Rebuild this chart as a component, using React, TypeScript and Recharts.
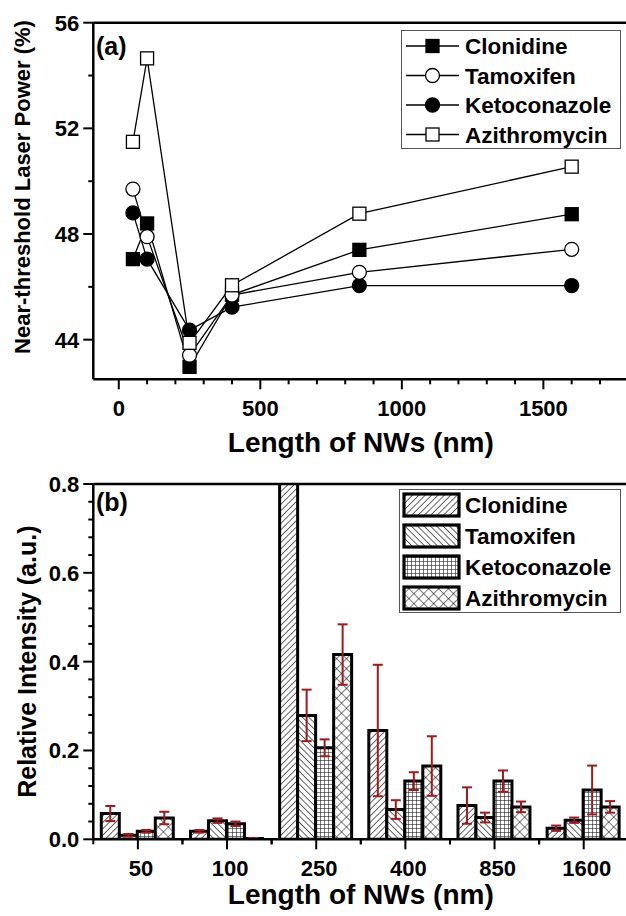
import React from 'react';
import {
  LineChart, Line, BarChart, Bar, XAxis, YAxis, ReferenceLine, Legend, ErrorBar, Label, Customized,
} from 'recharts';

// ---------- data ----------
const lengths = [50, 100, 250, 400, 850, 1600];
const clonidineP = [47.05, 48.4, 42.97, 45.7, 47.4, 48.75];
const tamoxifenP = [49.7, 47.9, 43.41, 45.69, 46.55, 47.42];
const ketoconazoleP = [48.8, 47.05, 44.36, 45.23, 46.05, 46.05];
const azithromycinP = [51.49, 54.65, 43.88, 46.06, 48.77, 50.55];

const topXTicks = [0, 100, 200, 300, 400, 500, 600, 700, 800, 900, 1000, 1100, 1200, 1300, 1400, 1500, 1600, 1700];
const topYTicks = [44, 46, 48, 50, 52, 54, 56];

const categories = ['50', '100', '250', '400', '850', '1600'];
const clonidineI = [0.058, 0.018, 1.0, 0.245, 0.076, 0.025];
const clonidineE = [0.017, 0.003, 0, 0.148, 0.041, 0.006];
const tamoxifenI = [0.009, 0.042, 0.279, 0.067, 0.049, 0.043];
const tamoxifenE = [0.003, 0.005, 0.058, 0.021, 0.011, 0.006];
const ketoconazoleI = [0.018, 0.035, 0.206, 0.131, 0.131, 0.111];
const ketoconazoleE = [0.003, 0.005, 0.019, 0.02, 0.024, 0.055];
const azithromycinI = [0.048, 0.002, 0.416, 0.165, 0.073, 0.073];
const azithromycinE = [0.014, 0.001, 0.068, 0.067, 0.012, 0.013];

const bottomYTicks = [0, 0.04, 0.08, 0.12, 0.16, 0.2, 0.24, 0.28, 0.32, 0.36, 0.4, 0.44, 0.48, 0.52, 0.56, 0.6, 0.64, 0.68, 0.72, 0.76, 0.8];
const bottomYLabels = ['0.0', '0.2', '0.4', '0.6', '0.8'];

const seriesNames = ['Clonidine', 'Tamoxifen', 'Ketoconazole', 'Azithromycin'];

const lineData = lengths.map((len, i) => ({
  len,
  cl: clonidineP[i],
  ta: tamoxifenP[i],
  ke: ketoconazoleP[i],
  az: azithromycinP[i],
}));

const barData = categories.map((cat, i) => ({
  cat,
  cl: clonidineI[i], clE: clonidineE[i],
  ta: tamoxifenI[i], taE: tamoxifenE[i],
  ke: ketoconazoleI[i], keE: ketoconazoleE[i],
  az: azithromycinI[i], azE: azithromycinE[i],
}));

// ---------- style ----------
const FONT = '"Liberation Sans", Arial, Helvetica, sans-serif';
const ERR = '#a3181b';
const AXIS_W = 2.5;

const W = 680;
const PLOT_LEFT = 93.3;
const PLOT_W = 535;

// ---------- markers ----------
const markerShape = (kind: string, cx: number, cy: number, key?: any) => {
  if (kind === 'sqF' || kind === 'sqO') {
    return (
      <rect key={key} x={cx - 6.5} y={cy - 6.5} width={13} height={13}
        fill={kind === 'sqF' ? '#000' : '#fff'} stroke="#000" strokeWidth={1.3} />
    );
  }
  return (
    <circle key={key} cx={cx} cy={cy} r={7}
      fill={kind === 'ciF' ? '#000' : '#fff'} stroke="#000" strokeWidth={1.3} />
  );
};
const markerKinds = ['sqF', 'ciO', 'ciF', 'sqO'];
const makeDot = (kind: string) => (p: any) => markerShape(kind, p.cx, p.cy, `${kind}-${p.index}`);

// ---------- ticks ----------
const TopXTick = (props: any) => {
  const { x, y, payload } = props;
  const major = payload.value % 500 === 0;
  return (
    <g>
      <line x1={x} y1={y} x2={x} y2={y + (major ? 10 : 5)} stroke="#000" strokeWidth={2} />
      {major && (
        <text x={x} y={y + 37} textAnchor="middle" fontSize={22} fontWeight="bold" fontFamily={FONT} fill="#000">
          {payload.value}
        </text>
      )}
    </g>
  );
};

const TopYTick = (props: any) => {
  const { x, y, payload } = props;
  const major = payload.value % 4 === 0;
  return (
    <g>
      <line x1={x} y1={y} x2={x - (major ? 10 : 5)} y2={y} stroke="#000" strokeWidth={2} />
      {major && (
        <text x={x - 14} y={y + 8} textAnchor="end" fontSize={22} fontWeight="bold" fontFamily={FONT} fill="#000">
          {payload.value}
        </text>
      )}
    </g>
  );
};

const BAND = PLOT_W / categories.length;
const BottomXTick = (props: any) => {
  const { x, y, payload } = props;
  return (
    <g>
      <line x1={x} y1={y} x2={x} y2={y + 10} stroke="#000" strokeWidth={2} />
      <line x1={x - BAND / 2} y1={y} x2={x - BAND / 2} y2={y + 5} stroke="#000" strokeWidth={2} />
      <line x1={x + BAND / 2} y1={y} x2={x + BAND / 2} y2={y + 5} stroke="#000" strokeWidth={2} />
      <text x={x + 3} y={y + 37} textAnchor="middle" fontSize={22} fontWeight="bold" fontFamily={FONT} fill="#000">
        {payload.value}
      </text>
    </g>
  );
};

const BottomYTick = (props: any) => {
  const { x, y, index } = props;
  const major = index % 5 === 0;
  return (
    <g>
      <line x1={x} y1={y} x2={x - (major ? 10 : 5)} y2={y} stroke="#000" strokeWidth={2} />
      {major && (
        <text x={x - 14} y={y + 8} textAnchor="end" fontSize={22} fontWeight="bold" fontFamily={FONT} fill="#000">
          {bottomYLabels[index / 5]}
        </text>
      )}
    </g>
  );
};

// ---------- legends ----------
const TopLegend = () => (
  <svg width={222} height={122} style={{ display: 'block' }}>
    <rect x={0.5} y={0.5} width={219} height={118} fill="#fff" stroke="#555" strokeWidth={1} />
    {seriesNames.map((name, i) => {
      const cy = 16 + i * 29.5;
      return (
        <g key={name}>
          <line x1={5} y1={cy} x2={58} y2={cy} stroke="#000" strokeWidth={1.3} />
          {markerShape(markerKinds[i], 31.5, cy)}
          <text x={64} y={cy + 8} fontSize={22.5} fontWeight="bold" fontFamily={FONT} fill="#000">{name}</text>
        </g>
      );
    })}
  </svg>
);

const patternIds = ['patCl', 'patTa', 'patKe', 'patAz'];
const BottomLegend = () => (
  <svg width={224} height={126} style={{ display: 'block' }}>
    <rect x={0.5} y={0.5} width={221} height={123} fill="#fff" stroke="#555" strokeWidth={1} />
    {seriesNames.map((name, i) => {
      const cy = 16 + i * 31;
      return (
        <g key={name}>
          <rect x={5} y={cy - 11} width={55} height={22} fill={`url(#${patternIds[i]})`} stroke="#000" strokeWidth={3.2} />
          <text x={66} y={cy + 8} fontSize={22.5} fontWeight="bold" fontFamily={FONT} fill="#000">{name}</text>
        </g>
      );
    })}
  </svg>
);

// ---------- patterns ----------
const Patterns = () => (
  <svg width={0} height={0} style={{ position: 'absolute' }}>
    <defs>
      <pattern id="patCl" patternUnits="userSpaceOnUse" width={4.5} height={4.5} patternTransform="rotate(45)">
        <rect width={4.5} height={4.5} fill="#fff" />
        <line x1={0} y1={0} x2={0} y2={4.5} stroke="#000" strokeWidth={1.2} />
      </pattern>
      <pattern id="patTa" patternUnits="userSpaceOnUse" width={4.5} height={4.5} patternTransform="rotate(-45)">
        <rect width={4.5} height={4.5} fill="#fff" />
        <line x1={0} y1={0} x2={0} y2={4.5} stroke="#000" strokeWidth={1.2} />
      </pattern>
      <pattern id="patKe" patternUnits="userSpaceOnUse" width={4} height={4}>
        <rect width={4} height={4} fill="#fff" />
        <line x1={0} y1={0} x2={0} y2={4} stroke="#000" strokeWidth={1} />
        <line x1={0} y1={0} x2={4} y2={0} stroke="#000" strokeWidth={1} />
      </pattern>
      <pattern id="patAz" patternUnits="userSpaceOnUse" width={7} height={7} patternTransform="rotate(45)">
        <rect width={7} height={7} fill="#fff" />
        <line x1={0} y1={0} x2={0} y2={7} stroke="#000" strokeWidth={1} />
        <line x1={0} y1={0} x2={7} y2={0} stroke="#000" strokeWidth={1} />
      </pattern>
    </defs>
  </svg>
);

const PanelLabel = (text: string, x: number, y: number) => () => (
  <text x={x} y={y} fontSize={25} fontWeight="bold" fontFamily={FONT} fill="#000">{text}</text>
);

export default function App() {
  return (
    <div style={{ position: 'absolute', left: 0, top: 0, width: 626, height: 916, overflow: 'hidden', background: '#fff' }}>
      <Patterns />
      <div style={{ position: 'absolute', left: 0, top: 0 }}>
        <LineChart width={W} height={470} data={lineData}
          margin={{ top: 22.7, right: W - PLOT_LEFT - PLOT_W, bottom: 0, left: 0 }}>
          <XAxis type="number" dataKey="len" domain={[-90, 1800]} allowDataOverflow ticks={topXTicks} interval={0}
            height={90.7} tickSize={0} tickMargin={0} tick={<TopXTick />}
            axisLine={{ stroke: '#000', strokeWidth: AXIS_W }} tickLine={false}>
            <Label content={(p: any) => {
              const vb = p.viewBox;
              return (
                <text x={vb.x + vb.width / 2} y={vb.y + 73} textAnchor="middle" fontSize={28} fontWeight="bold" fontFamily={FONT} fill="#000">
                  Length of NWs (nm)
                </text>
              );
            }} />
          </XAxis>
          <YAxis type="number" domain={[42.5, 56]} allowDataOverflow ticks={topYTicks} interval={0}
            width={PLOT_LEFT} tickSize={0} tickMargin={0} tick={<TopYTick />}
            axisLine={{ stroke: '#000', strokeWidth: AXIS_W }} tickLine={false}>
            <Label content={(p: any) => {
              const vb = p.viewBox;
              const cx = 22;
              const cy = vb.y + vb.height / 2 - 14;
              return (
                <text x={cx} y={cy} transform={`rotate(-90, ${cx}, ${cy})`} textAnchor="middle" dominantBaseline="central"
                  fontSize={22} fontWeight="bold" fontFamily={FONT} fill="#000">
                  Near-threshold Laser Power (%)
                </text>
              );
            }} />
          </YAxis>
          <ReferenceLine y={56} stroke="#000" strokeWidth={AXIS_W} />
          <Line type="linear" dataKey="cl" name="Clonidine" stroke="#000" strokeWidth={1.3} dot={makeDot('sqF')} isAnimationActive={false} />
          <Line type="linear" dataKey="ke" name="Ketoconazole" stroke="#000" strokeWidth={1.3} dot={makeDot('ciF')} isAnimationActive={false} />
          <Line type="linear" dataKey="ta" name="Tamoxifen" stroke="#000" strokeWidth={1.3} dot={makeDot('ciO')} isAnimationActive={false} />
          <Line type="linear" dataKey="az" name="Azithromycin" stroke="#000" strokeWidth={1.3} dot={makeDot('sqO')} isAnimationActive={false} />
          <Legend layout="vertical" align="center" verticalAlign="middle" content={<TopLegend />}
            wrapperStyle={{ position: 'absolute', left: 401, top: 30, width: 222, height: 122 }} />
          <Customized component={PanelLabel('(a)', 96, 55)} />
        </LineChart>
      </div>
      <div style={{ position: 'absolute', left: 0, top: 460 }}>
        <BarChart width={W} height={456} data={barData} barGap={0} barCategoryGap={8}
          margin={{ top: 24, right: W - PLOT_LEFT - PLOT_W, bottom: 0, left: 0 }}>
          <XAxis dataKey="cat" height={76.7} tickSize={0} tickMargin={0} tick={<BottomXTick />} interval={0}
            axisLine={{ stroke: '#000', strokeWidth: AXIS_W }} tickLine={false}>
            <Label content={(p: any) => {
              const vb = p.viewBox;
              return (
                <text x={vb.x + vb.width / 2} y={vb.y + 65} textAnchor="middle" fontSize={28} fontWeight="bold" fontFamily={FONT} fill="#000">
                  Length of NWs (nm)
                </text>
              );
            }} />
          </XAxis>
          <YAxis type="number" domain={[0, 0.8]} allowDataOverflow ticks={bottomYTicks} interval={0}
            width={PLOT_LEFT} tickSize={0} tickMargin={0} tick={<BottomYTick />}
            axisLine={{ stroke: '#000', strokeWidth: AXIS_W }} tickLine={false}>
            <Label content={(p: any) => {
              const vb = p.viewBox;
              const cx = 27;
              const cy = vb.y + vb.height / 2;
              return (
                <text x={cx} y={cy} transform={`rotate(-90, ${cx}, ${cy})`} textAnchor="middle" dominantBaseline="central"
                  fontSize={25} fontWeight="bold" fontFamily={FONT} fill="#000">
                  Relative Intensity (a.u.)
                </text>
              );
            }} />
          </YAxis>
          <ReferenceLine y={0.8} stroke="#000" strokeWidth={AXIS_W} />
          <Bar dataKey="cl" name="Clonidine" fill="url(#patCl)" stroke="#000" strokeWidth={3} isAnimationActive={false}>
            <ErrorBar dataKey="clE" width={5} stroke={ERR} strokeWidth={2} direction="y" />
          </Bar>
          <Bar dataKey="ta" name="Tamoxifen" fill="url(#patTa)" stroke="#000" strokeWidth={3} isAnimationActive={false}>
            <ErrorBar dataKey="taE" width={5} stroke={ERR} strokeWidth={2} direction="y" />
          </Bar>
          <Bar dataKey="ke" name="Ketoconazole" fill="url(#patKe)" stroke="#000" strokeWidth={3} isAnimationActive={false}>
            <ErrorBar dataKey="keE" width={5} stroke={ERR} strokeWidth={2} direction="y" />
          </Bar>
          <Bar dataKey="az" name="Azithromycin" fill="url(#patAz)" stroke="#000" strokeWidth={3} isAnimationActive={false}>
            <ErrorBar dataKey="azE" width={5} stroke={ERR} strokeWidth={2} direction="y" />
          </Bar>
          <Legend layout="vertical" align="center" verticalAlign="middle" content={<BottomLegend />}
            wrapperStyle={{ position: 'absolute', left: 399, top: 29, width: 224, height: 126 }} />
          <Customized component={PanelLabel('(b)', 96, 51)} />
        </BarChart>
      </div>
    </div>
  );
}
